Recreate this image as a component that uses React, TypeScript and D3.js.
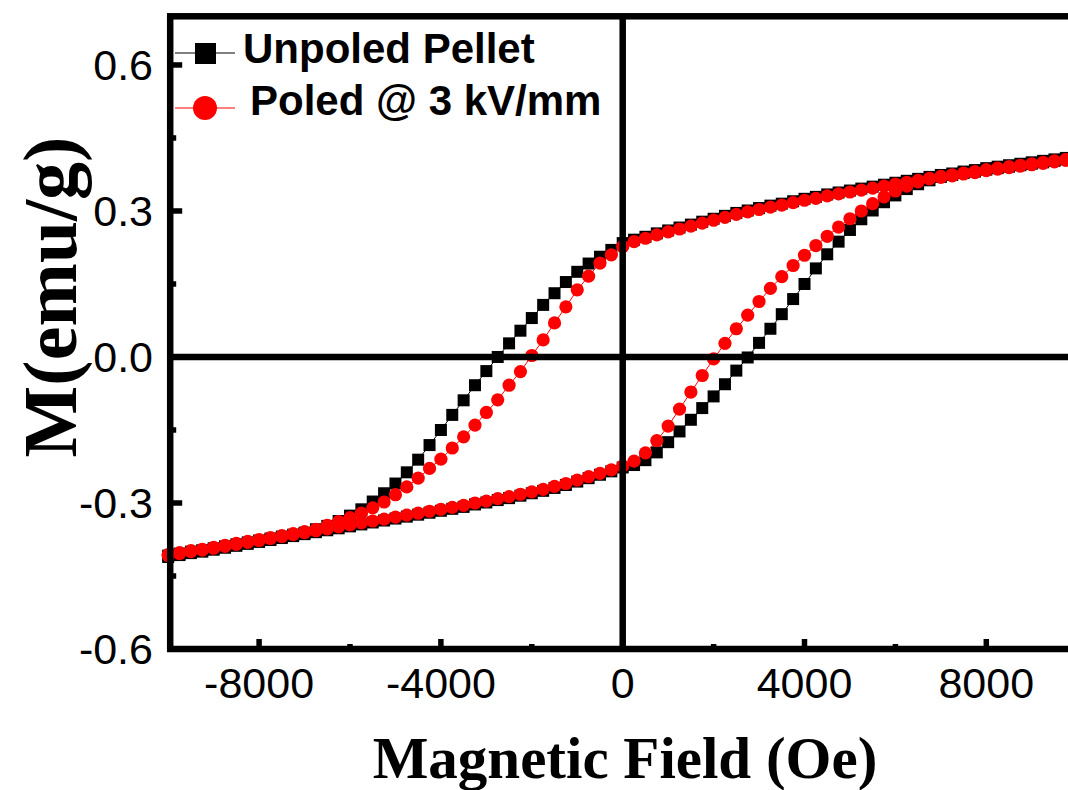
import React from 'react';
import * as d3 from 'd3';

// Field grid (Oe), shared by every branch
const fieldOe = [
  -10000, -9750, -9500, -9250, -9000, -8750, -8500, -8250, -8000, -7750, -7500, -7250, -7000, -6750,
  -6500, -6250, -6000, -5750, -5500, -5250, -5000, -4750, -4500, -4250, -4000, -3750, -3500, -3250,
  -3000, -2750, -2500, -2250, -2000, -1750, -1500, -1250, -1000, -750, -500, -250, 0, 250, 500, 750,
  1000, 1250, 1500, 1750, 2000, 2250, 2500, 2750, 3000, 3250, 3500, 3750, 4000, 4250, 4500, 4750,
  5000, 5250, 5500, 5750, 6000, 6250, 6500, 6750, 7000, 7250, 7500, 7750, 8000, 8250, 8500, 8750,
  9000, 9250, 9500, 9750, 10000,
];

// Unpoled pellet: descending (upper) and ascending (lower) branch, emu/g
const unpoledDown = [
  -0.408, -0.404, -0.4, -0.397, -0.393, -0.389, -0.385, -0.381, -0.377, -0.373, -0.369, -0.365, -0.361,
  -0.354, -0.347, -0.337, -0.326, -0.313, -0.297, -0.28, -0.26, -0.237, -0.211, -0.181, -0.15, -0.119,
  -0.089, -0.058, -0.029, 0.0, 0.028, 0.054, 0.08, 0.107, 0.131, 0.154, 0.175, 0.192, 0.206, 0.22,
  0.234, 0.241, 0.247, 0.254, 0.26, 0.266, 0.272, 0.278, 0.284, 0.29, 0.296, 0.301, 0.306, 0.311, 0.315,
  0.32, 0.325, 0.329, 0.334, 0.338, 0.342, 0.346, 0.35, 0.354, 0.358, 0.362, 0.366, 0.37, 0.374, 0.377,
  0.381, 0.384, 0.388, 0.391, 0.394, 0.397, 0.4, 0.403, 0.406, 0.409, 0.412,
];
const unpoledUp = [
  -0.411, -0.407, -0.403, -0.4, -0.396, -0.392, -0.388, -0.384, -0.38, -0.376, -0.372, -0.368, -0.364,
  -0.36, -0.356, -0.352, -0.348, -0.344, -0.34, -0.336, -0.332, -0.328, -0.324, -0.32, -0.316, -0.312,
  -0.308, -0.303, -0.299, -0.294, -0.29, -0.285, -0.28, -0.275, -0.269, -0.263, -0.256, -0.249, -0.242,
  -0.235, -0.227, -0.222, -0.212, -0.196, -0.175, -0.153, -0.129, -0.105, -0.081, -0.056, -0.028,
  -0.001, 0.029, 0.058, 0.088, 0.119, 0.15, 0.182, 0.211, 0.237, 0.261, 0.283, 0.301, 0.318, 0.332,
  0.345, 0.355, 0.363, 0.37, 0.374, 0.378, 0.381, 0.385, 0.388, 0.391, 0.394, 0.397, 0.4, 0.403, 0.406,
  0.409,
];

// Poled @ 3 kV/mm
const poledDown = [
  -0.406, -0.402, -0.398, -0.395, -0.391, -0.387, -0.383, -0.379, -0.375, -0.371, -0.367, -0.363, -0.359,
  -0.354, -0.346, -0.338, -0.33, -0.321, -0.31, -0.298, -0.283, -0.267, -0.249, -0.229, -0.21, -0.187,
  -0.164, -0.14, -0.114, -0.088, -0.058, -0.03, 0.003, 0.035, 0.07, 0.103, 0.138, 0.166, 0.193, 0.21,
  0.227, 0.237, 0.244, 0.251, 0.257, 0.263, 0.269, 0.275, 0.281, 0.287, 0.293, 0.298, 0.303, 0.308,
  0.312, 0.317, 0.322, 0.326, 0.331, 0.335, 0.339, 0.343, 0.347, 0.351, 0.355, 0.359, 0.363, 0.367,
  0.371, 0.374, 0.378, 0.381, 0.385, 0.388, 0.391, 0.394, 0.397, 0.4, 0.403, 0.406, 0.409,
];
const poledUp = [
  -0.408, -0.404, -0.4, -0.397, -0.393, -0.389, -0.385, -0.381, -0.377, -0.373, -0.369, -0.365, -0.361,
  -0.357, -0.353, -0.349, -0.345, -0.341, -0.337, -0.333, -0.329, -0.325, -0.321, -0.317, -0.313, -0.309,
  -0.305, -0.3, -0.296, -0.291, -0.287, -0.282, -0.277, -0.272, -0.266, -0.26, -0.253, -0.246, -0.239,
  -0.232, -0.224, -0.214, -0.197, -0.172, -0.142, -0.107, -0.072, -0.038, -0.004, 0.028, 0.058, 0.086,
  0.114, 0.141, 0.165, 0.188, 0.209, 0.229, 0.248, 0.267, 0.284, 0.3, 0.315, 0.329, 0.341, 0.351, 0.36,
  0.366, 0.369, 0.372, 0.376, 0.379, 0.383, 0.386, 0.389, 0.392, 0.395, 0.398, 0.401, 0.404, 0.407,
];

const xMajor = [-8000, -4000, 0, 4000, 8000];
const xMinor = [-6000, -2000, 2000, 6000];
const yMajor = [-0.6, -0.3, 0, 0.3, 0.6];
const yMinor = [-0.45, -0.15, 0.15, 0.45];

const SANS = '"Liberation Sans", Arial, sans-serif';
const SERIF = '"Liberation Serif", "Times New Roman", serif';
const AXIS_W = 6.5;

type Pt = { h: number; m: number };

// loop = upper branch from +H to -H, then lower branch back to +H
function loop(down: number[], up: number[]): Pt[] {
  const a = fieldOe.map((h, i) => ({ h, m: down[i] })).reverse();
  const b = fieldOe.map((h, i) => ({ h, m: up[i] }));
  return a.concat(b);
}

// plain hyphen minus, like the original figure
const fmtY = (v: number) => (Math.abs(v) < 1e-9 ? '0.0' : v.toFixed(1));

export default function App() {
  const x = d3.scaleLinear().domain([-10000, 10000]).range([168.2, 1077.2]);
  const y = d3.scaleLinear().domain([-0.6, 0.7]).range([649, 16.3]);

  const line = d3.line<Pt>().x((d) => x(d.h)).y((d) => y(d.m));
  const black = loop(unpoledDown, unpoledUp);
  const red = loop(poledDown, poledUp);

  const [x0, x1] = x.range();
  const [yb, yt] = y.range();

  return (
    <div style={{ position: 'absolute', left: 0, top: 0 }}>
      <svg width={1068} height={790} style={{ display: 'block', background: '#fff' }}>
        {/* series: unpoled first, poled drawn on top */}
        <path d={line(black) ?? ''} fill="none" stroke="#000" strokeWidth={1} />
        {black.map((d, i) => (
          <rect key={'b' + i} x={x(d.h) - 6} y={y(d.m) - 6} width={12} height={12} fill="#000" />
        ))}
        <path d={line(red) ?? ''} fill="none" stroke="#ff0000" strokeWidth={1} />
        {red.map((d, i) => (
          <circle key={'r' + i} cx={x(d.h)} cy={y(d.m)} r={6.6} fill="#ff0000" />
        ))}

        {/* zero lines */}
        <line x1={x(0)} x2={x(0)} y1={yt} y2={yb} stroke="#000" strokeWidth={AXIS_W} />
        <line x1={x0} x2={x1} y1={y(0)} y2={y(0)} stroke="#000" strokeWidth={AXIS_W} />

        {/* frame */}
        <rect x={x0 + 2} y={yt} width={x1 - x0} height={yb - yt} fill="none" stroke="#000" strokeWidth={AXIS_W} />

        {/* x ticks */}
        {xMajor.map((v) => (
          <line key={'xt' + v} x1={x(v)} x2={x(v)} y1={yb} y2={yb - 10} stroke="#000" strokeWidth={5.5} />
        ))}
        {xMinor.map((v) => (
          <line key={'xm' + v} x1={x(v)} x2={x(v)} y1={yb} y2={yb - 5} stroke="#000" strokeWidth={5.5} />
        ))}
        {xMajor.map((v) => (
          <text key={'xl' + v} x={x(v)} y={698} textAnchor="middle" fontFamily={SANS} fontSize={43} fill="#000">
            {String(v)}
          </text>
        ))}

        {/* y ticks */}
        {yMajor.map((v) => (
          <line key={'yt' + v} x1={x0 + 2} x2={x0 + 14} y1={y(v)} y2={y(v)} stroke="#000" strokeWidth={5.5} />
        ))}
        {yMinor.map((v) => (
          <line key={'ym' + v} x1={x0 + 2} x2={x0 + 8} y1={y(v)} y2={y(v)} stroke="#000" strokeWidth={5.5} />
        ))}
        {yMajor.map((v) => (
          <text key={'yl' + v} x={153} y={y(v)} dy="0.36em" textAnchor="end" fontFamily={SANS} fontSize={43} fill="#000">
            {fmtY(v)}
          </text>
        ))}

        {/* axis titles */}
        <text x={625} y={778} textAnchor="middle" fontFamily={SERIF} fontWeight="bold" fontSize={59} fill="#000">
          Magnetic Field (Oe)
        </text>
        <text
          transform={`translate(76,${297}) rotate(-90)`}
          textAnchor="middle"
          fontFamily={SERIF}
          fontWeight="bold"
          fontSize={76}
          fill="#000"
        >
          M(emu/g)
        </text>

        {/* legend */}
        <line x1={175} x2={235} y1={53} y2={53} stroke="#000" strokeWidth={1.2} />
        <rect x={195} y={43} width={21} height={21} fill="#000" />
        <text x={243} y={63} fontFamily={SANS} fontWeight="bold" fontSize={42} fill="#000">
          Unpoled Pellet
        </text>
        <line x1={175} x2={235} y1={108} y2={108} stroke="#ff0000" strokeWidth={1.2} />
        <circle cx={205} cy={108} r={12} fill="#ff0000" />
        <text x={250} y={115} fontFamily={SANS} fontWeight="bold" fontSize={42} fill="#000">
          Poled @ 3 kV/mm
        </text>
      </svg>
    </div>
  );
}
